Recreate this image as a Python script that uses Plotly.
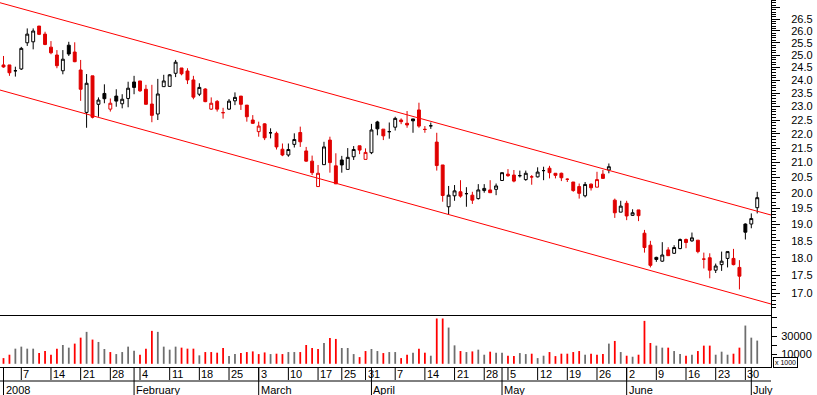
import math
import plotly.graph_objects as go

# ---------------- data ----------------
day_index = list(range(128))  # trading days 2 Jan 2008 .. 2 Jul 2008

open_ = [24.60, 24.60, 24.37, 24.44, 25.50, 25.54, 26.20, 25.86, 25.32, 25.00,
         24.37, 25.40, 25.12, 24.40, 22.78, 24.17, 23.08, 23.49, 22.90, 23.39,
         23.10, 23.30, 23.93, 23.97, 23.65, 23.09, 22.72, 23.75, 23.76, 24.27,
         24.48, 24.36, 24.01, 23.46, 23.66, 22.90, 23.19, 22.77, 22.90, 23.21,
         23.39, 23.05, 22.50, 22.08, 22.36, 22.04, 22.02, 21.46, 21.26, 21.63,
         22.05, 21.40, 21.05, 20.20, 20.93, 21.78, 20.89, 21.09, 20.77, 21.20,
         21.58, 21.11, 21.34, 22.43, 22.17, 22.08, 22.24, 22.50, 22.38, 22.54,
         22.87, 22.16, 22.29, 21.71, 20.92, 19.55, 19.90, 20.03, 19.97, 19.92,
         19.81, 20.07, 20.09, 20.11, 20.40, 20.61, 20.58, 20.56, 20.43, 20.52,
         20.52, 20.73, 20.81, 20.64, 20.64, 20.44, 20.35, 20.20, 19.90, 20.28,
         20.18, 20.61, 20.75, 19.76, 19.38, 19.66, 19.28, 19.45, 18.73, 18.37,
         18.01, 17.90, 18.23, 18.13, 18.27, 18.54, 18.50, 18.52, 17.96, 18.00,
         17.64, 17.80, 17.98, 17.98, 17.72, 19.01, 19.01, 19.52]

high = [24.96, 24.60, 24.53, 25.33, 26.10, 26.10, 26.20, 25.96, 25.57, 25.20,
        25.20, 25.54, 25.52, 24.80, 24.24, 24.17, 23.34, 23.84, 23.30, 23.65,
        23.46, 23.94, 24.17, 23.97, 23.82, 23.82, 24.05, 24.21, 24.24, 24.80,
        24.48, 24.47, 24.17, 23.88, 23.69, 23.34, 23.24, 22.95, 23.28, 23.53,
        23.39, 23.05, 22.68, 22.44, 22.38, 22.20, 22.08, 21.66, 21.66, 22.02,
        22.26, 21.54, 21.24, 20.92, 21.72, 21.90, 21.32, 21.23, 21.50, 21.57,
        21.58, 21.49, 22.36, 22.47, 22.17, 22.41, 22.62, 22.56, 22.83, 22.54,
        23.14, 22.28, 22.41, 22.04, 20.92, 20.22, 20.25, 20.41, 20.18, 20.03,
        20.28, 20.28, 20.41, 20.30, 20.66, 20.78, 20.75, 20.73, 20.73, 20.58,
        20.84, 20.86, 20.89, 20.64, 20.66, 20.47, 20.35, 20.30, 20.35, 20.30,
        20.69, 20.75, 20.97, 19.81, 19.74, 19.74, 19.47, 19.45, 18.83, 18.50,
        18.03, 18.46, 18.31, 18.37, 18.57, 18.57, 18.75, 18.52, 18.15, 18.13,
        17.83, 18.18, 18.18, 18.26, 17.93, 19.03, 19.34, 20.03]

low = [24.49, 24.17, 24.14, 24.40, 25.37, 25.23, 25.82, 25.40, 25.03, 24.47,
       24.23, 24.96, 24.71, 23.21, 22.22, 22.56, 22.62, 23.12, 22.81, 22.99,
       22.93, 22.97, 23.46, 23.55, 23.08, 22.42, 22.50, 23.75, 23.75, 24.12,
       24.19, 23.85, 23.27, 23.39, 23.16, 22.87, 22.81, 22.55, 22.87, 23.05,
       22.87, 22.44, 22.36, 21.90, 21.78, 21.84, 21.45, 21.22, 21.20, 21.52,
       21.54, 21.03, 20.58, 20.19, 20.93, 20.66, 20.29, 20.66, 20.77, 21.09,
       21.29, 21.11, 21.29, 21.95, 21.78, 21.83, 22.12, 22.35, 22.22, 22.04,
       22.22, 22.04, 22.18, 20.73, 19.71, 19.32, 19.74, 19.84, 19.55, 19.64,
       19.78, 20.00, 20.00, 19.92, 20.39, 20.52, 20.34, 20.50, 20.39, 20.26,
       20.50, 20.41, 20.47, 20.47, 20.38, 20.35, 20.03, 19.81, 19.85, 20.07,
       20.18, 20.47, 20.64, 19.20, 19.38, 19.13, 19.26, 19.10, 18.15, 17.72,
       17.88, 17.88, 18.05, 18.11, 18.25, 18.28, 18.47, 18.13, 17.69, 17.41,
       17.56, 17.62, 17.72, 17.78, 17.10, 18.54, 18.88, 19.34]

close = [24.52, 24.29, 24.37, 25.27, 25.86, 25.99, 25.85, 25.43, 25.09, 24.57,
         24.83, 25.04, 24.73, 23.65, 23.88, 22.60, 23.24, 23.29, 23.12, 23.20,
         23.27, 23.69, 23.72, 23.59, 23.08, 22.67, 23.47, 23.97, 24.21, 24.71,
         24.25, 24.01, 23.35, 23.72, 23.18, 23.12, 22.90, 22.77, 23.20, 23.34,
         23.08, 22.62, 22.38, 22.28, 21.86, 22.04, 21.54, 21.26, 21.45, 21.80,
         21.72, 21.05, 20.66, 20.64, 21.54, 21.00, 20.29, 20.92, 21.18, 21.45,
         21.43, 21.35, 22.14, 22.18, 21.93, 22.08, 22.56, 22.44, 22.32, 22.47,
         22.28, 22.16, 22.29, 20.90, 19.91, 19.92, 20.06, 19.89, 19.97, 19.76,
         20.09, 20.14, 20.00, 20.22, 20.66, 20.56, 20.38, 20.56, 20.64, 20.52,
         20.68, 20.73, 20.66, 20.57, 20.49, 20.44, 20.07, 19.98, 20.27, 20.16,
         20.43, 20.47, 20.86, 19.36, 19.57, 19.26, 19.36, 19.27, 18.30, 17.78,
         17.95, 18.08, 18.06, 18.30, 18.54, 18.45, 18.59, 18.18, 17.96, 17.64,
         17.76, 17.90, 18.18, 17.80, 17.47, 18.76, 19.18, 19.84]

volume_k = [6200, 9900, 16500, 18700, 16500, 16500, 11700, 13900, 9900, 16500,
            20500, 17600, 22000, 28500, 34800, 26400, 23800, 16100, 12800, 10600,
            12800, 18700, 14300, 9900, 16500, 35900, 34800, 18700, 15400, 18700,
            17600, 16500, 16500, 9200, 12800, 12800, 12100, 17200, 8400, 10600,
            11700, 12800, 13500, 10600, 12400, 10600, 11000, 10600, 12800, 12800,
            12800, 20500, 17200, 16100, 22700, 28200, 27100, 17200, 17200, 10600,
            7300, 13900, 16100, 13900, 11700, 12800, 12800, 6200, 9900, 12100,
            16500, 12100, 8800, 49400, 49400, 39500, 20100, 13900, 12800, 13500,
            15400, 9900, 13200, 12100, 12100, 8800, 8400, 11700, 10600, 11000,
            6200, 8800, 12800, 8400, 11000, 11000, 12800, 13900, 9900, 11000,
            9900, 10600, 22000, 24900, 12800, 8800, 7700, 9900, 46800, 22700,
            19800, 17600, 17600, 13900, 10600, 8800, 9900, 13900, 19800, 19800,
            9900, 13200, 9900, 11000, 17600, 41700, 28500, 25300]

# 1 = closed below the previous close (drawn red)
down_day = [1, 1, 0, 0, 0, 0, 1, 1, 1, 1,
            0, 0, 1, 1, 0, 1, 0, 0, 1, 0,
            0, 0, 0, 1, 1, 1, 0, 0, 0, 0,
            1, 1, 1, 0, 1, 1, 1, 1, 0, 0,
            1, 1, 1, 1, 1, 0, 1, 1, 0, 0,
            1, 1, 1, 1, 0, 1, 1, 0, 0, 0,
            1, 1, 0, 0, 1, 0, 0, 1, 1, 0,
            1, 1, 0, 1, 1, 0, 0, 1, 0, 1,
            0, 0, 1, 0, 0, 1, 1, 0, 0, 1,
            0, 0, 1, 1, 1, 1, 1, 1, 0, 1,
            1, 1, 0, 1, 0, 1, 0, 1, 1, 1,
            0, 0, 1, 0, 0, 1, 0, 1, 1, 1,
            0, 0, 0, 1, 1, 0, 0, 0]

week_idx = [3, 8, 13, 18, 23, 28, 33, 38, 43, 48, 53, 57, 61, 66, 71, 76, 81,
            85, 90, 95, 100, 105, 110, 115, 120, 125]
week_labels = ["7", "14", "21", "28", "4", "11", "18", "25", "3", "10", "17",
               "25", "31", "7", "14", "21", "28", "5", "12", "19", "26", "2",
               "9", "16", "23", "30"]
month_idx = [0, 22, 43, 62, 84, 105, 126]
month_labels = ["2008", "February", "March", "April", "May", "June", "July"]

price_ticks = [17.0, 17.5, 18.0, 18.5, 19.0, 19.5, 20.0, 20.5, 21.0, 21.5, 22.0,
               22.5, 23.0, 23.5, 24.0, 24.5, 25.0, 25.5, 26.0, 26.5, 27.0]
price_tick_text = ["%.1f" % v for v in price_ticks[:-1]] + [""]
vol_ticks = [10000, 20000, 30000, 40000, 50000]
vol_tick_text = ["10000", "", "30000", "", ""]

# trend channel (two parallel lines)
channel_x = [-0.59, 129.32]
channel_upper = [27.21, 19.29]
channel_lower = [23.62, 16.70]

# ---------------- figure ----------------
W, H = 817, 395
PLOT_R = 771       # right edge of plotting area (px)
SPLIT = 315        # price / volume separator (px)
PLOT_B = 367       # bottom of volume panel (px)
X_RANGE = [-0.59, 129.32]

RED_C = "#e00000"
VOL_RED = "#ff0000"
VOL_GREY = "#6e6e6e"


def pick(arr, idx):
    return [arr[i] for i in idx]


red_i = [i for i in day_index if down_day[i]]
blk_i = [i for i in day_index if not down_day[i]]

fig = go.Figure()

for idx, col, fill_dn in ((blk_i, "black", "black"), (red_i, RED_C, RED_C)):
    fig.add_trace(go.Candlestick(
        x=idx, open=pick(open_, idx), high=pick(high, idx),
        low=pick(low, idx), close=pick(close, idx),
        increasing=dict(line=dict(color=col, width=1), fillcolor="white"),
        decreasing=dict(line=dict(color=col, width=1), fillcolor=fill_dn),
        whiskerwidth=0, xaxis="x", yaxis="y", showlegend=False,
        hoverinfo="skip"))

for ys in (channel_upper, channel_lower):
    fig.add_trace(go.Scatter(x=channel_x, y=ys, mode="lines",
                             line=dict(color="#ff0000", width=1),
                             xaxis="x", yaxis="y", showlegend=False,
                             hoverinfo="skip"))

fig.add_trace(go.Bar(x=day_index, y=volume_k, width=0.3,
                     marker=dict(color=[VOL_RED if d else VOL_GREY for d in down_day],
                                 line=dict(width=0)),
                     xaxis="x2", yaxis="y2", showlegend=False, hoverinfo="skip"))

minor_ticks = [round(16.5 + 0.1 * k, 1) for k in range(0, 109)]
minor_ticks = [v for v in minor_ticks if abs(v * 2 - round(v * 2)) > 1e-6]

main_bottom = (PLOT_B - SPLIT) / PLOT_B

fig.update_layout(
    width=W, height=H,
    margin=dict(l=0, r=W - PLOT_R, t=0, b=H - PLOT_B, pad=0),
    paper_bgcolor="white", plot_bgcolor="white", showlegend=False,
    font=dict(family="Arial, Liberation Sans, sans-serif", size=11, color="black"),
    xaxis=dict(domain=[0, 1], range=X_RANGE, anchor="y", showline=True,
               linecolor="black", linewidth=1, ticks="", showticklabels=False,
               showgrid=False, zeroline=False, rangeslider=dict(visible=False)),
    yaxis=dict(domain=[main_bottom, 1], type="log",
               range=[math.log10(16.405), math.log10(27.33)],
               side="right", anchor="x", showline=True, linecolor="black", linewidth=1,
               ticks="outside", ticklen=8, tickwidth=1, tickcolor="black",
               tickmode="array", tickvals=price_ticks, ticktext=price_tick_text,
               ticklabelstandoff=9,
               minor=dict(tickmode="array", tickvals=minor_ticks, ticks="outside",
                          ticklen=4, tickwidth=1, tickcolor="black", showgrid=False),
               showgrid=False, zeroline=False),
    xaxis2=dict(domain=[0, 1], range=X_RANGE, anchor="y2", showline=True,
                linecolor="black", linewidth=1, ticks="", showticklabels=False,
                showgrid=False, zeroline=False),
    yaxis2=dict(domain=[0, main_bottom], range=[-3500, 53200], side="right",
                anchor="x2", showline=True, linecolor="black", linewidth=1,
                ticks="outside", ticklen=5, tickwidth=1, tickcolor="black",
                tickmode="array", tickvals=vol_ticks, ticktext=vol_tick_text,
                ticklabelstandoff=2, showgrid=False, zeroline=False),
)


def py(px):
    """pixel row -> paper y"""
    return (PLOT_B - px) / PLOT_B


shapes = []
annotations = []
for i, lab in zip(week_idx, week_labels):
    shapes.append(dict(type="line", xref="x", yref="paper", x0=i, x1=i,
                       y0=py(PLOT_B), y1=py(380), line=dict(color="black", width=1)))
    annotations.append(dict(x=i, y=py(374), xref="x", yref="paper", text=lab,
                            showarrow=False, xanchor="left", yanchor="middle",
                            font=dict(size=11, color="black")))
for i, lab in zip(month_idx, month_labels):
    shapes.append(dict(type="line", xref="x", yref="paper", x0=i, x1=i,
                       y0=py(PLOT_B), y1=py(H), line=dict(color="black", width=1)))
    annotations.append(dict(x=i, y=py(389.5), xref="x", yref="paper", text=lab,
                            showarrow=False, xanchor="left", yanchor="middle",
                            font=dict(size=11, color="black")))
shapes.append(dict(type="line", xref="paper", yref="paper", x0=0, x1=1,
                   y0=py(381), y1=py(381), line=dict(color="black", width=1)))

annotations.append(dict(x=773 / PLOT_R, y=py(362), xref="paper", yref="paper",
                        text="x 1000", showarrow=False, xanchor="left",
                        yanchor="middle", font=dict(size=7, color="black"),
                        bordercolor="black", borderwidth=1, borderpad=1,
                        bgcolor="white"))

fig.update_layout(shapes=shapes, annotations=annotations)

fig.write_html("out.html",
               config={"displayModeBar": False, "staticPlot": True},
               post_script="document.body.style.margin='0';"
                           "document.body.style.padding='0';"
                           "document.body.style.overflow='hidden';")
